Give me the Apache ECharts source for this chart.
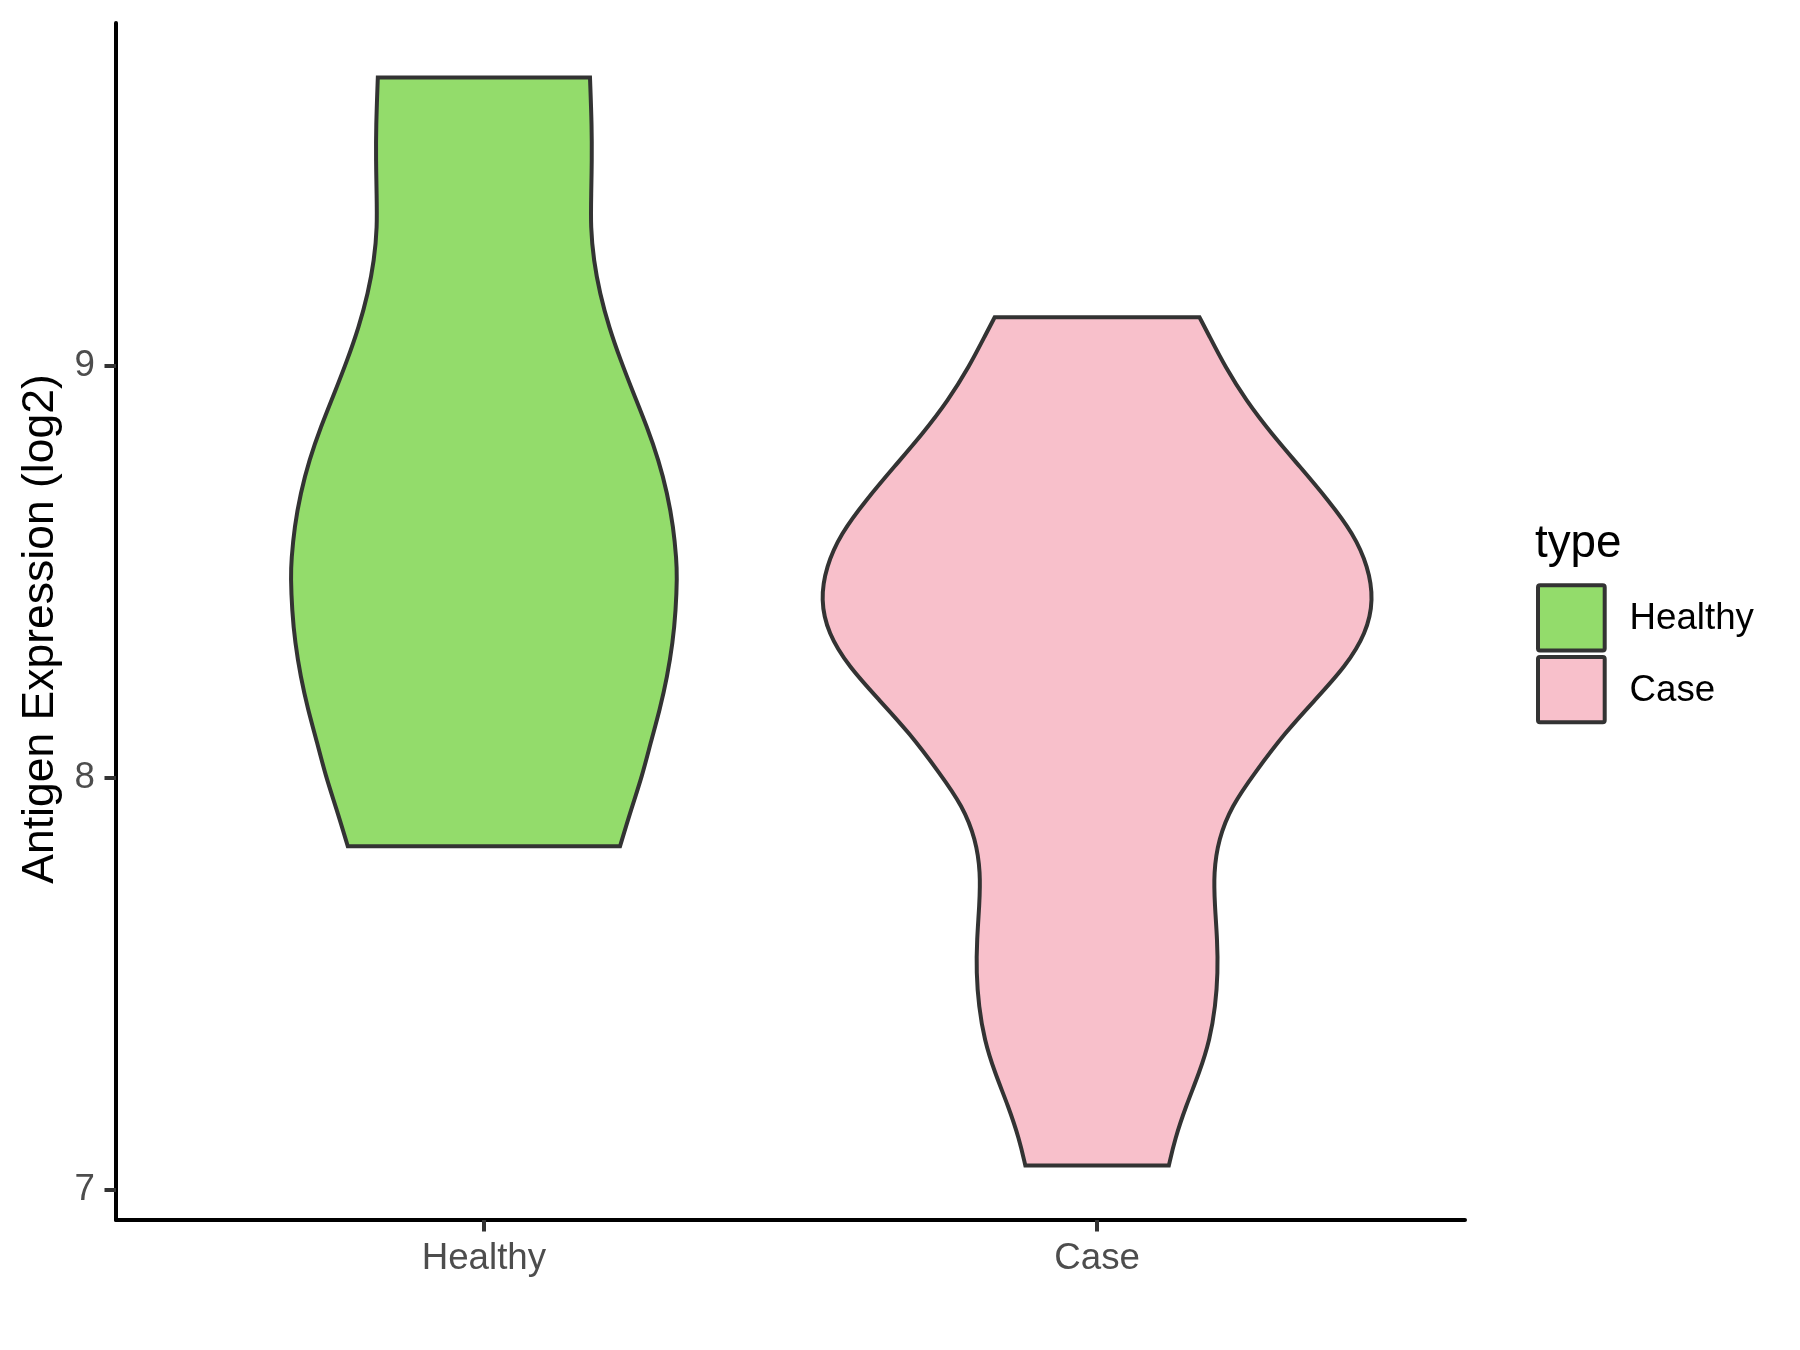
<!DOCTYPE html>
<html>
<head>
<meta charset="utf-8">
<script src="https://cdn.jsdelivr.net/npm/echarts@6/dist/echarts.min.js"></script>
<style>
  html, body { margin: 0; padding: 0; background: #ffffff; }
  #chart { width: 1800px; height: 1350px; }
</style>
</head>
<body>
<div id="chart"></div>
<script>
// Groups on the x axis
const categories = ['Healthy', 'Case'];
const groupColors = ['#93DC6B', '#F8C0CB'];

// Violin outlines: expression level (log2) and the violin half-width
// (in category units) at that level, listed from the top of each violin down.
const healthyLevels = [9.699, 9.578, 9.497, 9.417, 9.335, 9.255, 9.175, 9.093, 9.012, 8.932,
  8.851, 8.770, 8.690, 8.608, 8.528, 8.487, 8.407, 8.327, 8.245, 8.165, 8.085, 8.003, 7.922, 7.833];
const healthyHalfWidth = [0.173, 0.176, 0.176, 0.175, 0.174, 0.179, 0.189, 0.204, 0.223, 0.244,
  0.266, 0.285, 0.299, 0.309, 0.314, 0.315, 0.313, 0.308, 0.299, 0.287, 0.272, 0.258, 0.240, 0.222];

const caseLevels = [9.117, 9.077, 8.996, 8.915, 8.835, 8.754, 8.673, 8.592, 8.512, 8.431,
  8.350, 8.269, 8.189, 8.108, 8.011, 7.930, 7.850, 7.769, 7.688, 7.607, 7.526, 7.445, 7.364,
  7.284, 7.203, 7.123, 7.058];
const caseHalfWidth = [0.167, 0.181, 0.209, 0.243, 0.284, 0.331, 0.377, 0.418, 0.442, 0.451,
  0.439, 0.405, 0.356, 0.306, 0.257, 0.219, 0.198, 0.190, 0.192, 0.196, 0.197, 0.193, 0.184,
  0.167, 0.145, 0.127, 0.117];

// Axis ticks
const yTicks = [7, 8, 9];
const xTicks = [1, 2];

const profiles = [
  { levels: healthyLevels, halfWidth: healthyHalfWidth },
  { levels: caseLevels, halfWidth: caseHalfWidth }
];

// y range: data range padded by 5% on each side
const allLevels = healthyLevels.concat(caseLevels);
const yLo = Math.min.apply(null, allLevels);
const yHi = Math.max.apply(null, allLevels);
const yPad = (yHi - yLo) * 0.05;

const FONT = '"Liberation Sans", Arial, Helvetica, sans-serif';
const OUTLINE = '#333333';

// Smooth side of a violin: clamped uniform cubic B-spline over the screen
// points, written out as cubic Bezier segments (starts at pts[0], ends at last).
function smoothSide(pts) {
  const p = [pts[0], pts[0]].concat(pts, [pts[pts.length - 1], pts[pts.length - 1]]);
  let d = '';
  for (let i = 0; i + 3 < p.length; i++) {
    const b0 = p[i], b1 = p[i + 1], b2 = p[i + 2], b3 = p[i + 3];
    const c1 = [(4 * b1[0] + 2 * b2[0]) / 6, (4 * b1[1] + 2 * b2[1]) / 6];
    const c2 = [(2 * b1[0] + 4 * b2[0]) / 6, (2 * b1[1] + 4 * b2[1]) / 6];
    const e = [(b1[0] + 4 * b2[0] + b3[0]) / 6, (b1[1] + 4 * b2[1] + b3[1]) / 6];
    d += ' C' + c1[0] + ',' + c1[1] + ' ' + c2[0] + ',' + c2[1] + ' ' + e[0] + ',' + e[1];
  }
  return d;
}

function violinRenderer(profile, color) {
  return function (params, api) {
    const pos = api.value(0);
    const left = profile.levels.map((v, i) => api.coord([pos - profile.halfWidth[i], v]));
    const right = profile.levels.map((v, i) => api.coord([pos + profile.halfWidth[i], v])).reverse();
    const d = 'M' + left[0][0] + ',' + left[0][1] + smoothSide(left) +
      ' L' + right[0][0] + ',' + right[0][1] + smoothSide(right) + ' Z';
    return {
      type: 'path',
      shape: { pathData: d },
      style: { fill: color, stroke: OUTLINE, lineWidth: 4, lineJoin: 'miter' }
    };
  };
}

const series = categories.map((name, k) => ({
  type: 'custom',
  name: name,
  data: [[k + 1, Math.min.apply(null, profiles[k].levels), Math.max.apply(null, profiles[k].levels)]],
  encode: { x: 0, y: [1, 2] },
  renderItem: violinRenderer(profiles[k], groupColors[k]),
  silent: true
}));

// Legend keys and labels
const legendGraphics = [
  { type: 'text', left: 1535, top: 521,
    style: { text: 'type', font: '45.8px ' + FONT, fill: '#000000' } }
];
categories.forEach((name, k) => {
  const top = 585.3 + k * 71.7;
  legendGraphics.push({
    type: 'rect',
    shape: { x: 1538, y: top, width: 66.7, height: 65.3, r: 2 },
    style: { fill: groupColors[k], stroke: OUTLINE, lineWidth: 4 }
  });
  legendGraphics.push({
    type: 'text',
    x: 1629.5, y: top + 33.5,
    style: { text: name, font: '36.7px ' + FONT, fill: '#000000',
      textAlign: 'left', textVerticalAlign: 'middle' }
  });
});

const option = {
  animation: false,
  backgroundColor: '#ffffff',
  grid: { left: 116, right: 335, top: 23, bottom: 130, containLabel: false },
  xAxis: {
    type: 'value',
    min: 0.4,
    max: 2.6,
    splitLine: { show: false },
    axisLine: { show: true, onZero: false, lineStyle: { color: '#000000', width: 4 } },
    axisTick: { show: true, customValues: xTicks, length: 11.5, lineStyle: { color: OUTLINE, width: 4 } },
    axisLabel: {
      show: true, customValues: xTicks, margin: 20,
      color: '#4D4D4D', fontSize: 36.7, fontFamily: FONT,
      formatter: v => categories[Math.round(v) - 1] || ''
    }
  },
  yAxis: {
    type: 'value',
    min: yLo - yPad,
    max: yHi + yPad,
    splitLine: { show: false },
    axisLine: { show: true, onZero: false, lineStyle: { color: '#000000', width: 4 } },
    axisTick: { show: true, customValues: yTicks, length: 11.5, lineStyle: { color: OUTLINE, width: 4 } },
    axisLabel: {
      show: true, customValues: yTicks, margin: 21,
      color: '#4D4D4D', fontSize: 36.7, fontFamily: FONT,
      formatter: v => String(Math.round(v))
    }
  },
  graphic: [
    {
      type: 'text',
      x: 41, y: 629,
      rotation: Math.PI / 2,
      style: { text: 'Antigen Expression (log2)', font: '44.5px ' + FONT, fill: '#000000',
        textAlign: 'center', textVerticalAlign: 'middle' }
    }
  ].concat(legendGraphics),
  series: series
};

const chart = echarts.init(document.getElementById('chart'), null, { renderer: 'canvas' });
chart.setOption(option);
</script>
</body>
</html>
